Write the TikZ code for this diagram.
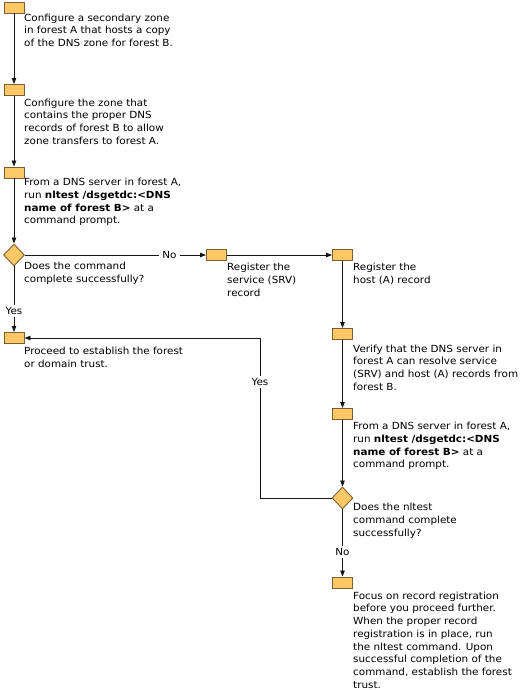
\documentclass[tikz,border=0pt]{standalone}
\usepackage{fontspec}
\setmainfont{DejaVu Sans}[FakeStretch=1.06]
\usetikzlibrary{arrows.meta,shapes.geometric}
\definecolor{boxfill}{RGB}{255,200,102}
\definecolor{boxline}{RGB}{120,95,50}
\definecolor{linecol}{RGB}{20,20,20}
\tikzset{
  stepbox/.style={draw=boxline,fill=boxfill,line width=0.9pt,minimum width=20pt,minimum height=11pt,inner sep=0pt},
  decision/.style={draw=boxline,fill=boxfill,line width=0.9pt,diamond,minimum width=21pt,minimum height=22pt,inner sep=0pt},
  txt/.style={anchor=north west,inner sep=0pt,align=left,font={\fontsize{9.8}{12.75}\selectfont}},
  lbl/.style={inner xsep=3.5pt,inner ysep=2pt,font={\fontsize{9.8}{12.75}\selectfont}},
  conn/.style={draw=linecol,line width=0.8pt},
  arr/.style={conn,-{Triangle[length=6pt,width=4.5pt]}}
}
\begin{document}
\begin{tikzpicture}[x=1pt,y=-1pt]
\useasboundingbox (0,0) rectangle (531,690);
% left column
\node[stepbox] (b1) at (14,7.5) {};
\node[txt] (t1) at (24,13.5) {Configure a secondary zone\\in forest A that hosts a copy\\of the DNS zone for forest B.};
\node[stepbox] (b2) at (14,90) {};
\node[txt] (t2) at (24,98.5) {Configure the zone that\\contains the proper DNS\\records of forest B to allow\\zone transfers to forest A.};
\node[stepbox] (b3) at (14,172.5) {};
\node[txt] (t3) at (24,178) {From a DNS server in forest A,\\run \textbf{nltest /dsgetdc:<DNS}\\\textbf{name of forest B>} at a\\command prompt.};
\node[decision] (d1) at (14,255) {};
\node[txt] (td1) at (24,262) {Does the command\\complete successfully?};
\node[stepbox] (b4) at (14,338) {};
\node[txt] (t4) at (24,347) {Proceed to establish the forest\\or domain trust.};
% middle
\node[stepbox] (b5) at (216.5,255) {};
\node[txt] (t5) at (227,263) {Register the\\service (SRV)\\record};
% right column
\node[stepbox] (b6) at (342.5,255) {};
\node[txt] (t6) at (353,263) {Register the\\host (A) record};
\node[stepbox] (b7) at (342.5,334) {};
\node[txt] (t7) at (353,344.5) {Verify that the DNS server in\\forest A can resolve service\\(SRV) and host (A) records from\\forest B.};
\node[stepbox] (b8) at (342.5,414) {};
\node[txt] (t8) at (353,422) {From a DNS server in forest A,\\run \textbf{nltest /dsgetdc:<DNS}\\\textbf{name of forest B>} at a\\command prompt.};
\node[decision] (d2) at (342.5,498) {};
\node[txt] (td2) at (353,503) {Does the nltest\\command complete\\successfully?};
\node[stepbox] (b9) at (342.5,582.5) {};
\node[txt] (t9) at (353,591.5) {Focus on record registration\\before you proceed further.\\When the proper record\\registration is in place, run\\the nltest command. Upon\\successful completion of the\\command, establish the forest\\trust.};
% labels
\node[lbl] (no1) at (169.5,255) {No};
\node[lbl] (yes1) at (14,311) {Yes};
\node[lbl] (yes2) at (260,382) {Yes};
\node[lbl] (no2) at (342.5,552) {No};
\coordinate (c1) at (260,498);
\coordinate (c2) at (260,338);
% connectors
\draw[arr] (b1) -- (b2);
\draw[arr] (b2) -- (b3);
\draw[arr] (b3) -- (d1);
\draw[conn] (d1.east) -- (no1.west);
\draw[arr] (no1.east) -- (b5.west);
\draw[conn] (d1.south) -- (yes1.north);
\draw[arr] (yes1.south) -- (b4.north);
\draw[arr] (b5.east) -- (b6.west);
\draw[arr] (b6) -- (b7);
\draw[arr] (b7) -- (b8);
\draw[arr] (b8) -- (d2);
\draw[conn] (d2.south) -- (no2.north);
\draw[arr] (no2.south) -- (b9.north);
\draw[conn] (d2.west) -- (c1) -- (yes2.south);
\draw[arr] (yes2.north) -- (c2) -- (b4.east);
\end{tikzpicture}
\end{document}
